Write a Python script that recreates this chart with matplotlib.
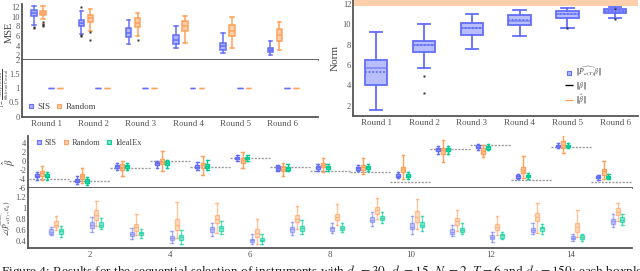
import matplotlib.pyplot as plt
from matplotlib.colors import to_rgba
from matplotlib.lines import Line2D
from matplotlib.ticker import FuncFormatter

plt.rcParams['font.family'] = ['Liberation Serif', 'DejaVu Serif']
plt.rcParams['mathtext.fontset'] = 'stix'

BLUE = '#636EFA'
ORANGE = '#FFA15A'
GREEN = '#00CC96'
GREY = '#555555'

rounds = ['Round 1', 'Round 2', 'Round 3', 'Round 4', 'Round 5', 'Round 6']

# boxes as (whislo, q1, med, q3, whishi)
mse_sis = [(8.4, 10.2, 10.9, 11.4, 12.3), (6.5, 8.2, 8.8, 9.3, 11.2),
           (4.4, 5.8, 6.6, 7.7, 9.4), (3.4, 4.3, 5.2, 6.3, 8.1),
           (2.5, 3.1, 3.9, 4.6, 6.7), (2.0, 2.6, 3.0, 3.4, 4.9)]
mse_sis_out = [[7.6, 7.8], [12.0, 6.3, 6.0], [], [], [], []]
mse_random = [(9.5, 10.5, 10.9, 11.3, 12.3), (7.1, 9.0, 9.8, 10.5, 11.6),
              (5.9, 7.8, 8.8, 9.8, 10.8), (4.6, 7.0, 8.0, 9.1, 10.2),
              (3.4, 6.0, 7.0, 8.3, 9.9), (3.1, 5.0, 6.2, 7.4, 9.0)]
mse_random_out = [[8.9, 8.6, 8.3, 8.0], [6.8, 5.2], [5.1], [], [], []]

frac_sis = [1, 1, 1, 1, 1, 1]
frac_random = [1, 1, 1, 1, 1, 1]

norm_box = [(1.6, 4.0, 5.7, 6.5, 9.25), (5.75, 7.3, 7.95, 8.4, 10.05),
            (7.55, 8.95, 9.6, 10.15, 11.05), (8.85, 9.95, 10.35, 10.95, 11.4),
            (9.65, 10.6, 11.05, 11.3, 11.6), (10.6, 11.1, 11.35, 11.55, 11.7)]
norm_mean = [5.35, 8.0, 9.6, 10.45, 11.0, 11.35]
norm_out = [[], [4.95, 3.25], [], [], [9.6], [10.5, 11.5]]
beta_norm_band = (11.8, 12.7)

groups = list(range(1, 16))
beta_true = [-4.0, -4.5, -1.7, -0.1, -1.3, 0.65, -1.5, -2.2, -2.6, -4.8,
             2.7, 3.6, -4.4, 3.0, -4.8]
beta_sis = [(-4.3, -3.7, -3.4, -3.0, -2.6), (-5.2, -4.8, -4.4, -4.1, -3.5),
            (-2.0, -1.6, -1.2, -0.9, -0.5), (-1.6, -1.0, -0.6, -0.2, 0.0),
            (-2.1, -1.7, -1.3, -0.9, -0.3), (0.0, 0.3, 0.6, 0.9, 1.2),
            (-2.3, -2.0, -1.6, -1.2, -0.9), (-2.2, -1.8, -1.5, -1.2, -0.8),
            (-2.4, -2.0, -1.65, -1.3, -0.9), (-3.9, -3.7, -3.3, -3.0, -2.6),
            (1.4, 2.1, 2.5, 2.8, 3.3), (2.4, 2.8, 3.1, 3.4, 3.8),
            (-4.0, -3.8, -3.5, -3.2, -2.9), (2.8, 3.1, 3.35, 3.6, 4.0),
            (-4.2, -3.9, -3.7, -3.4, -3.1)]
beta_random = [(-4.4, -3.5, -2.8, -2.2, -1.15), (-5.0, -4.1, -3.5, -2.9, -1.7),
               (-3.5, -2.0, -1.3, -0.8, 0.0), (-2.4, -0.8, -0.2, 0.4, 2.2),
               (-3.2, -1.6, -1.0, -0.4, 1.0), (-1.7, -0.4, 0.1, 0.7, 2.0),
               (-3.3, -2.3, -1.8, -1.2, -0.4), (-2.5, -1.5, -0.9, -0.5, 0.5),
               (-3.0, -2.0, -1.4, -0.9, 0.5), (-4.0, -2.6, -1.9, -1.3, 1.2),
               (-0.3, 1.6, 2.3, 2.9, 4.65), (0.8, 1.6, 2.1, 2.8, 3.5),
               (-3.8, -2.8, -2.1, -1.4, 1.0), (1.7, 2.8, 3.55, 4.3, 5.7),
               (-4.0, -3.1, -2.4, -1.8, 0.0)]
beta_ideal = [(-4.4, -3.7, -3.3, -2.9, -2.5), (-5.4, -4.9, -4.5, -4.1, -3.7),
              (-2.0, -1.6, -1.2, -0.9, -0.6), (-1.7, -1.0, -0.5, -0.1, 0.2),
              (-2.0, -1.6, -1.1, -0.8, 0.2), (-0.1, 0.3, 0.6, 0.9, 1.3),
              (-2.4, -2.0, -1.6, -1.3, -0.8), (-2.2, -1.8, -1.5, -1.2, -0.8),
              (-2.3, -1.9, -1.5, -1.2, -0.8), (-4.0, -3.7, -3.3, -3.0, -2.6),
              (1.4, 2.1, 2.5, 2.8, 3.3), (2.3, 2.7, 3.0, 3.3, 3.7),
              (-4.0, -3.7, -3.4, -3.1, -2.8), (2.8, 3.1, 3.35, 3.6, 4.0),
              (-4.1, -3.9, -3.6, -3.3, -3.0)]

angle_sis = [(0.50, 0.53, 0.57, 0.61, 0.65), (0.57, 0.64, 0.69, 0.75, 0.83),
             (0.44, 0.49, 0.52, 0.56, 0.64), (0.37, 0.42, 0.45, 0.49, 0.58),
             (0.49, 0.56, 0.61, 0.66, 0.73), (0.35, 0.38, 0.41, 0.44, 0.52),
             (0.50, 0.57, 0.61, 0.66, 0.75), (0.54, 0.59, 0.63, 0.66, 0.72),
             (0.68, 0.74, 0.79, 0.84, 0.93), (0.52, 0.61, 0.66, 0.72, 0.86),
             (0.49, 0.53, 0.57, 0.61, 0.70), (0.38, 0.44, 0.47, 0.50, 0.56),
             (0.52, 0.56, 0.60, 0.64, 0.73), (0.40, 0.43, 0.46, 0.49, 0.52),
             (0.65, 0.71, 0.76, 0.81, 0.89)]
angle_random = [(0.60, 0.65, 0.70, 0.76, 0.86), (0.67, 0.78, 0.87, 0.97, 1.14),
                (0.50, 0.59, 0.65, 0.71, 0.89), (0.45, 0.60, 0.70, 0.80, 1.12),
                (0.55, 0.73, 0.80, 0.88, 1.10), (0.35, 0.48, 0.55, 0.62, 0.80),
                (0.62, 0.75, 0.81, 0.87, 1.04), (0.69, 0.78, 0.84, 0.90, 1.08),
                (0.81, 0.90, 0.97, 1.02, 1.18), (0.61, 0.74, 0.84, 0.95, 1.17),
                (0.58, 0.70, 0.76, 0.82, 0.97), (0.50, 0.60, 0.66, 0.71, 0.85),
                (0.55, 0.76, 0.84, 0.92, 1.10), (0.48, 0.57, 0.65, 0.73, 0.97),
                (0.76, 0.87, 0.93, 1.00, 1.10)]
angle_ideal = [(0.48, 0.53, 0.58, 0.62, 0.67), (0.62, 0.66, 0.70, 0.75, 0.82),
               (0.45, 0.50, 0.54, 0.57, 0.62), (0.35, 0.42, 0.47, 0.50, 0.60),
               (0.53, 0.59, 0.63, 0.67, 0.76), (0.35, 0.39, 0.42, 0.45, 0.52),
               (0.53, 0.59, 0.63, 0.67, 0.79), (0.56, 0.60, 0.64, 0.68, 0.72),
               (0.73, 0.78, 0.82, 0.85, 0.93), (0.58, 0.65, 0.70, 0.75, 0.86),
               (0.52, 0.56, 0.60, 0.64, 0.72), (0.43, 0.46, 0.50, 0.52, 0.57),
               (0.53, 0.59, 0.63, 0.66, 0.71), (0.40, 0.44, 0.47, 0.50, 0.53),
               (0.70, 0.75, 0.79, 0.83, 0.90)]


def to_stats(rows, outs=None, means=None):
    st = []
    for i, (lo, q1, med, q3, hi) in enumerate(rows):
        d = dict(whislo=lo, q1=q1, med=med, q3=q3, whishi=hi,
                 fliers=outs[i] if outs else [])
        if means:
            d['mean'] = means[i]
        st.append(d)
    return st


def draw_boxes(ax, st, pos, color, width, face=0.5, edge=1.0, lw=1.0,
               cap=0.6, med_color=None, show_mean=False):
    ec = to_rgba(color, edge)
    ax.bxp(st, positions=pos, widths=width, patch_artist=True,
           manage_ticks=False, showmeans=show_mean, meanline=True,
           capwidths=width * cap,
           boxprops=dict(facecolor=to_rgba(color, face), edgecolor=ec, linewidth=lw),
           medianprops=dict(color=med_color or ec, linewidth=lw),
           meanprops=dict(color=ec, linestyle=(0, (1, 1)), linewidth=lw),
           whiskerprops=dict(color=ec, linewidth=lw),
           capprops=dict(color=ec, linewidth=lw),
           flierprops=dict(marker='s', markersize=1.6, markerfacecolor='#333333',
                           markeredgecolor='none'))


def style(ax):
    for s in ['top', 'right']:
        ax.spines[s].set_visible(False)
    for s in ['left', 'bottom']:
        ax.spines[s].set_color(GREY)
        ax.spines[s].set_linewidth(1.3)
    ax.tick_params(length=0, labelsize=6.5, colors='#555555', pad=2.5)
    ax.tick_params(axis='y', labelsize=6, pad=1.5)
    ax.yaxis.set_major_formatter(FuncFormatter(lambda v, p: '{:g}'.format(v)))


def square(color):
    return Line2D([], [], ls='none', marker='s', markersize=3.5,
                  markerfacecolor=to_rgba(color, 0.5), markeredgecolor=color,
                  markeredgewidth=0.8)


fig = plt.figure(figsize=(6.4, 2.71), dpi=100)

# top left: MSE and covered fraction
ax_mse = fig.add_axes([0.034, 0.780, 0.463, 0.205])
ax_frac = fig.add_axes([0.034, 0.570, 0.463, 0.210])
x6 = range(1, 7)
draw_boxes(ax_mse, to_stats(mse_sis, mse_sis_out), [x - 0.26 for x in x6], BLUE, 0.12, lw=1.1)
draw_boxes(ax_mse, to_stats(mse_random, mse_random_out), [x - 0.07 for x in x6], ORANGE, 0.12, lw=1.1)
for ax in (ax_mse, ax_frac):
    style(ax)
    ax.set_xlim(0.477, 6.75)
ax_mse.set_ylim(1.05, 12.7)
ax_mse.set_yticks([2, 4, 6, 8, 10, 12])
ax_mse.set_xticks([])
ax_mse.set_ylabel('MSE', fontsize=7.5, color='#444444')
ax_mse.yaxis.set_label_coords(-0.028, 0.5)

frac_st = [dict(whislo=v, q1=v, med=v, q3=v, whishi=v, fliers=[]) for v in frac_sis]
draw_boxes(ax_frac, frac_st, [x + 0.09 for x in x6], BLUE, 0.12, lw=1.0, cap=0)
frac_st = [dict(whislo=v, q1=v, med=v, q3=v, whishi=v, fliers=[]) for v in frac_random]
draw_boxes(ax_frac, frac_st, [x + 0.28 for x in x6], ORANGE, 0.12, lw=1.0, cap=0)
ax_frac.set_ylim(0, 2)
ax_frac.set_yticks([0, 0.5, 1, 1.5, 2])
ax_frac.set_xticks(list(x6))
ax_frac.set_xticklabels(rounds)
ax_frac.set_ylabel(r'$1-\frac{\#\mathrm{Deep\ Covered}}{\#\mathrm{Relevant\ Covered}}$',
                   fontsize=4, color='#444444')
ax_frac.yaxis.set_label_coords(-0.037, 0.5)
ax_frac.legend([square(BLUE), square(ORANGE)], ['SIS', 'Random'], loc='lower left',
               ncol=2, frameon=False, fontsize=6.5, handlelength=0.8,
               handletextpad=0.3, columnspacing=0.6, borderaxespad=0.2,
               bbox_to_anchor=(0.0, 0.0), labelcolor='#444444')

# top right: norms
ax_norm = fig.add_axes([0.552, 0.572, 0.445, 0.428])
style(ax_norm)
ax_norm.axhspan(beta_norm_band[0], beta_norm_band[1], color=ORANGE, alpha=0.5, lw=0)
draw_boxes(ax_norm, to_stats(norm_box, norm_out, norm_mean), list(x6), BLUE, 0.47,
           face=0.45, lw=1.3, cap=0.55, med_color=to_rgba(BLUE, 0.6), show_mean=True)
ax_norm.set_xlim(0.52, 6.48)
ax_norm.set_ylim(1.0, 12.4)
ax_norm.set_yticks([2, 4, 6, 8, 10, 12])
ax_norm.set_xticks(list(x6))
ax_norm.set_xticklabels(rounds)
ax_norm.set_ylabel('Norm', fontsize=8, color='#444444', labelpad=2)
h_b = Line2D([], [], color='black', ls='-.', lw=1)
h_bh = Line2D([], [], color=ORANGE, ls='-.', lw=1)
ax_norm.legend([square(BLUE), h_b, h_bh],
               [r'$\|\widehat{P_{a(T)}}\beta\|$', r'$\|\beta\|$', r'$\|\hat{\beta}\|$'],
               loc='center left', bbox_to_anchor=(0.72, 0.26), frameon=False,
               fontsize=5.5, handlelength=1.0, handletextpad=0.3, labelspacing=0.05,
               labelcolor='#444444')

# bottom: coefficients and angles
ax_beta = fig.add_axes([0.044, 0.306, 0.9435, 0.192])
ax_ang = fig.add_axes([0.044, 0.085, 0.9435, 0.221])
for ax in (ax_beta, ax_ang):
    style(ax)
    ax.set_xlim(0.47, 15.53)
for g, b in zip(groups, beta_true):
    ax_beta.plot([g - 0.5, g + 0.5], [b, b], color='#999999', lw=1.0,
                 ls=(0, (1.5, 1)))
draw_boxes(ax_beta, to_stats(beta_sis), [g - 0.31 for g in groups], BLUE, 0.1, face=0.6, lw=1.0)
draw_boxes(ax_beta, to_stats(beta_random), [g - 0.18 for g in groups], ORANGE, 0.1, face=0.5, lw=1.0)
draw_boxes(ax_beta, to_stats(beta_ideal), [g - 0.06 for g in groups], GREEN, 0.1, face=0.6, lw=1.0)
ax_beta.set_ylim(-6.1, 5.5)
ax_beta.set_yticks([-6, -4, -2, 0, 2, 4])
ax_beta.set_xticks([])
ax_beta.set_ylabel(r'$\hat{\beta}$', fontsize=7.5, color='#444444', labelpad=1)
ax_beta.legend([square(BLUE), square(ORANGE), square(GREEN)], ['SIS', 'Random', 'IdealEx'],
               loc='upper left', ncol=3, frameon=False, fontsize=6,
               handlelength=0.8, handletextpad=0.3, columnspacing=0.7,
               borderaxespad=0.1, bbox_to_anchor=(0.005, 1.03), labelcolor='#444444')

draw_boxes(ax_ang, to_stats(angle_sis), [g + 0.05 for g in groups], BLUE, 0.1,
           face=0.35, edge=0.5, lw=1.0)
draw_boxes(ax_ang, to_stats(angle_random), [g + 0.17 for g in groups], ORANGE, 0.1,
           face=0.35, edge=0.6, lw=1.0)
draw_boxes(ax_ang, to_stats(angle_ideal), [g + 0.29 for g in groups], GREEN, 0.1,
           face=0.4, edge=0.6, lw=1.0)
ax_ang.set_ylim(0.27, 1.37)
ax_ang.set_yticks([0.4, 0.6, 0.8, 1.0, 1.2])
ax_ang.set_xticks([2, 4, 6, 8, 10, 12, 14])
ax_ang.set_ylabel(r'$\angle(\widehat{P_{a(T)}}, e_k)$', fontsize=5.5, color='#444444', labelpad=1)

fig.text(0.002, -0.004, r'Figure 4: Results for the sequential selection of instruments with '
         r'$d_x = 30$, $d_z = 15$, $N_{\!r} = 2$, $T = 6$ and $d_\phi = 150$; each boxplot',
         fontsize=9.5, va='center', ha='left', color='#222222')

fig.savefig('out.png', dpi=100)
